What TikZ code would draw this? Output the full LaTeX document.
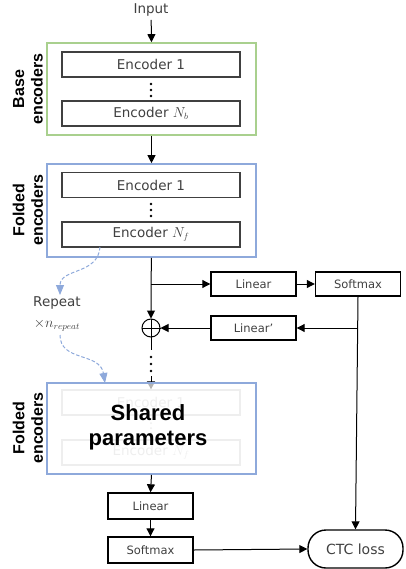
\documentclass[tikz,border=0pt]{standalone}
\usepackage{fontspec}
\setmainfont{DejaVu Sans}
\newfontfamily\labfont{Liberation Sans}
\usetikzlibrary{arrows.meta}
\definecolor{gboxc}{HTML}{A9D08E}
\definecolor{bboxc}{HTML}{8EA9DB}
\definecolor{txtc}{HTML}{404040}
\definecolor{fadec}{HTML}{C8C8C8}
\tikzset{
  encbox/.style={draw=txtc, line width=1.2pt, minimum width=178pt, minimum height=25pt, inner sep=0pt, text=txtc, font=\fontsize{13.5}{15}\selectfont},
  fadebox/.style={draw=fadec, line width=1.2pt, minimum width=178pt, minimum height=25pt, inner sep=0pt, text=fadec, font=\fontsize{13.5}{15}\selectfont},
  smallbox/.style={draw=black, line width=1.4pt, minimum width=85pt, minimum height=24pt, inner sep=0pt, text=txtc, font=\fontsize{11.5}{13}\selectfont},
  groupbox/.style={line width=1.6pt, minimum width=209pt, inner sep=0pt},
  grouplab/.style={rotate=90, align=center, font={\labfont\bfseries\fontsize{16}{18.5}\selectfont}},
  arr/.style={-{Triangle[length=8pt,width=8pt]}, line width=1pt},
  rep/.style={bboxc, dashed, dash pattern=on 3.5pt off 2pt, line width=1pt, -{Triangle[length=10pt,width=8pt]}},
  dotc/.style={fill=black, circle, inner sep=0pt, minimum size=2.6pt},
  plaintxt/.style={text=txtc, font=\fontsize{13.5}{15}\selectfont},
}
\begin{document}
\begin{tikzpicture}[x=1pt,y=-1pt]
\useasboundingbox (0,0) rectangle (406,569);
% input
\node[plaintxt] (input) at (151,10) {Input};
% base encoders
\node[groupbox, draw=gboxc, minimum height=92pt] (base) at (151.5,89) {};
\node[encbox] (enc1b) at (151,64.5) {Encoder 1};
\node[encbox] (encNb) at (151,113.5) {Encoder $N_b$};
\node[dotc] (bd1) at (151,84) {};
\node[dotc] (bd2) at (151,90) {};
\node[dotc] (bd3) at (151,96) {};
\node[grouplab] (baselab) at (28,89) {Base\\encoders};
% folded encoders 1
\node[groupbox, draw=bboxc, minimum height=93pt] (fold1) at (151.5,210.5) {};
\node[encbox] (enc1f) at (151,185) {Encoder 1};
\node[encbox] (encNf) at (151,234.5) {Encoder $N_f$};
\node[dotc] (fd1) at (151,204) {};
\node[dotc] (fd2) at (151,210) {};
\node[dotc] (fd3) at (151,216) {};
\node[grouplab] (foldlab1) at (28,210) {Folded\\encoders};
% side branch
\coordinate (b1) at (151,284);
\node[smallbox] (lin1) at (253.5,284) {Linear};
\node[smallbox] (soft1) at (358,284) {Softmax};
\coordinate (c2) at (358,328);
\node[smallbox] (linp) at (253.5,328) {Linear'};
\node[draw=black, circle, line width=1pt, minimum size=18pt, inner sep=0pt] (plus) at (151,328) {};
\draw[line width=1pt] (plus.north) -- (plus.south) (plus.west) -- (plus.east);
% dots on trunk
\coordinate (p1) at (151,350);
\node[dotc] (td1) at (151,357) {};
\node[dotc] (td2) at (151,364) {};
\node[dotc] (td3) at (151,371) {};
\coordinate (p2) at (151,376);
% folded encoders 2
\node[fadebox] (enc1s) at (151,402.5) {Encoder 1};
\node[fadebox] (encNs) at (151,452.5) {Encoder $N_f$};
\node[fill=fadec, circle, inner sep=0pt, minimum size=2pt] (sd1) at (151,423) {};
\node[fill=fadec, circle, inner sep=0pt, minimum size=2pt] (sd2) at (151,428) {};
\node[fill=fadec, circle, inner sep=0pt, minimum size=2pt] (sd3) at (151,433) {};
\draw[arr, draw=black] (p2) -- (enc1s.north);
\fill[white, opacity=0.7] (48,384) rectangle (255,473);
\node[groupbox, draw=bboxc, minimum height=91pt] (fold2) at (151.5,428.5) {};
\node[grouplab] (foldlab2) at (28,428) {Folded\\encoders};
\node[align=center, font={\labfont\bfseries\fontsize{22}{25}\selectfont}] (shared) at (148,427) {Shared\\parameters};
% bottom
\node[smallbox, minimum height=26pt] (lin2) at (150.5,506) {Linear};
\node[smallbox, minimum height=26pt] (soft2) at (150.5,550) {Softmax};
\node[draw=black, line width=1.4pt, rounded corners=18pt, minimum width=95pt, minimum height=38pt, text=txtc, font=\fontsize{14}{16}\selectfont] (ctc) at (355.5,549) {CTC loss};
% connectors
\draw[arr] (input) -- (base.north);
\draw[arr] (base.south) -- (fold1.north);
\draw[arr] (fold1.south) -- (b1) -- (plus.north);
\draw[arr] (b1) -- (lin1.west);
\draw[arr] (lin1.east) -- (soft1.west);
\draw[arr] (soft1.south) -- (ctc.north);
\draw[arr] (c2) -- (linp.east);
\draw[arr] (linp.west) -- (plus.east);
\draw[line width=1pt] (plus.south) -- (p1);
\draw[arr] (fold2.south) -- (lin2.north);
\draw[arr] (lin2.south) -- (soft2.north);
\draw[arr] (soft2.east) -- (ctc.west);
% repeat
\coordinate (r0) at (100,247);
\coordinate (r1) at (60,295);
\node[plaintxt] (repeat) at (57,303) {Repeat};
\node[plaintxt] (times) at (57,325) {$\times n_{repeat}$};
\coordinate (r2) at (60,335);
\coordinate (r3) at (105,383);
\draw[rep] (r0) .. controls (98,275) and (60,268) .. (r1);
\draw[rep] (r2) .. controls (60,362) and (100,352) .. (r3);
\end{tikzpicture}
\end{document}
